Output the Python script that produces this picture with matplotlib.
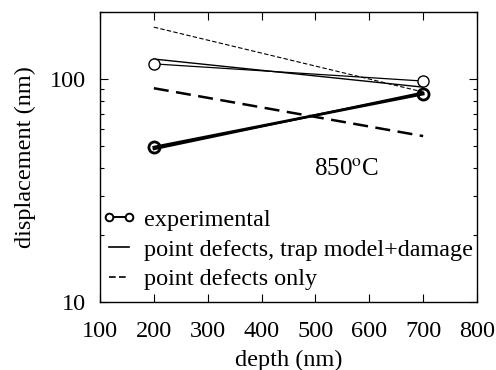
import matplotlib
matplotlib.use("Agg")
import matplotlib.pyplot as plt
from matplotlib.lines import Line2D
from matplotlib.ticker import LogLocator, NullFormatter, FixedLocator

plt.rcParams['font.family'] = ['Liberation Serif', 'DejaVu Serif']
plt.rcParams['mathtext.fontset'] = 'stix'

depth = [200, 700]
# thin (upper) set
exp_a = [117, 98]
trap_a = [123, 92]
pd_a = [171, 87.5]
# thick (lower) set
exp_b = [49.5, 85.7]
trap_b = [48.5, 87]
pd_b = [91, 55.5]

xticks = [100, 200, 300, 400, 500, 600, 700, 800]
yticks = [10, 100]
labels = ["experimental", "point defects, trap model+damage", "point defects only"]

fig = plt.figure(figsize=(4.96, 3.70), dpi=100)
ax = fig.add_axes([0.2016, 0.1838, 0.7601, 0.7838])

ax.plot(depth, trap_a, color='black', lw=1.0)
ax.plot(depth, exp_a, color='black', lw=0.9, marker='o', ms=8, mfc='white', mec='black', mew=1.0)
ax.plot(depth, pd_a, color='black', lw=0.8, dashes=(4, 2))

ax.plot(depth, trap_b, color='black', lw=1.6)
ax.plot(depth, exp_b, color='black', lw=2.0, marker='o', ms=8, mfc='none', mec='black', mew=2.0)
ax.plot(depth, pd_b, color='black', lw=1.8, dashes=(6, 3))

ax.set_yscale('log')
ax.set_xlim(100, 800)
ax.set_ylim(10, 200)
ax.set_xticks(xticks)
ax.set_xticklabels([str(v) for v in xticks])
ax.set_yticks(yticks)
ax.set_yticklabels([str(v) for v in yticks])
ax.yaxis.set_minor_locator(LogLocator(base=10, subs=range(2, 10)))
ax.yaxis.set_minor_formatter(NullFormatter())
ax.tick_params(which='both', direction='in', top=True, right=True, labelsize=17.5, width=0.8)
ax.tick_params(which='major', length=6)
ax.tick_params(which='minor', length=3)
ax.tick_params(axis='x', which='major', pad=14)
ax.tick_params(axis='y', which='major', pad=10)
for s in ax.spines.values():
    s.set_linewidth(1.0)

ax.set_xlabel("depth (nm)", fontsize=17.5, labelpad=5)
ax.set_ylabel("displacement (nm)", fontsize=17.5, labelpad=10)

ax.text(497, 39, r"850$^{\rm o}$C", fontsize=18, ha='left', va='center')

handles = [
    Line2D([], [], color='black', lw=1.4, marker='o', ms=5.5, mfc='white', mec='black', mew=1.4),
    Line2D([], [], color='black', lw=1.2),
    Line2D([], [], color='black', lw=1.2, dashes=(4, 2)),
]
ax.legend(handles, labels, loc='lower left', bbox_to_anchor=(-0.035, -0.01), frameon=False,
          fontsize=17.4, numpoints=2, handlelength=1.45, handletextpad=0.3, labelspacing=0.33,
          borderaxespad=0.2)

fig.savefig("out.png", dpi=100)
